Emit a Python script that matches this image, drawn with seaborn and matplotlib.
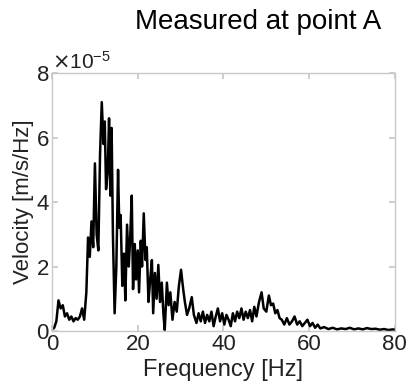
import numpy as np
import pandas as pd
import matplotlib
matplotlib.use("Agg")
import matplotlib.pyplot as plt
import matplotlib.ticker as mticker
import seaborn as sns

# estilo base
sns.set_theme(style="white")
plt.rcParams['font.family'] = ['Liberation Sans', 'DejaVu Sans']

# espectro (frecuencia en Hz, velocidad en unidades de 1e-5 m/s/Hz)
frecuencia = [
    0.0, 0.5, 1.0, 1.5, 2.0, 2.5, 3.0, 3.5, 4.0, 4.5, 5.0, 5.5, 6.0, 6.5, 7.0, 7.5,
    8.0, 8.4, 8.8, 9.2, 9.6, 10.0, 10.4, 10.8, 11.2, 11.6, 12.0, 12.3, 12.6, 13.0,
    13.3, 13.6, 13.9, 14.2, 14.6, 15.0, 15.4, 15.7, 16.0, 16.4, 16.8, 17.1, 17.5,
    17.9, 18.2, 18.6, 18.9, 19.3, 19.6, 20.0, 20.3, 20.7, 21.0, 21.4, 21.8, 22.1,
    22.5, 22.9, 23.3, 23.6, 24.0, 24.4, 24.8, 25.2, 25.6, 26.0, 26.3, 26.8, 27.2,
    27.6, 28.1, 28.6, 29.1, 29.6, 30.1, 30.6, 31.0, 31.5, 32.0, 32.6, 33.1, 33.7,
    34.2, 34.7, 35.2, 35.7, 36.2, 36.7, 37.2, 37.7, 38.2, 38.7, 39.2, 39.7, 40.2,
    40.7, 41.2, 41.7, 42.2, 42.7, 43.2, 43.7, 44.2, 44.7, 45.2, 45.7, 46.2, 46.7,
    47.2, 47.7, 48.3, 48.9, 49.4, 50.0, 50.6, 51.1, 51.6, 52.1, 52.6, 53.1, 53.6,
    54.2, 54.8, 55.4, 56.0, 56.6, 57.2, 57.8, 58.4, 59.0, 59.6, 60.2, 60.8, 61.4,
    62.0, 62.6, 63.5, 64.5, 65.5, 66.5, 67.5, 68.5, 69.5, 70.5, 71.5, 72.5, 73.5,
    74.5, 75.5, 76.5, 77.5, 78.5, 79.5, 80.0,
]
velocidad = [
    0.05, 0.1, 0.3, 0.95, 0.7, 0.8, 0.45, 0.55, 0.35, 0.45, 0.3, 0.4, 0.35, 0.45, 0.7, 0.35,
    1.2, 2.9, 2.3, 3.4, 2.6, 5.2, 3.0, 2.5, 5.5, 7.1, 5.8, 6.5, 4.4, 5.0,
    6.6, 4.2, 6.3, 3.0, 0.55, 2.0, 5.0, 3.2, 3.6, 1.4, 2.4, 0.95, 3.3,
    2.0, 2.8, 4.2, 1.3, 2.7, 1.6, 2.5, 1.2, 2.8, 2.0, 3.65, 2.2, 2.6,
    0.9, 1.6, 2.2, 0.55, 1.8, 1.0, 2.05, 0.9, 1.5, 0.5, 0.03, 1.5, 0.8,
    1.2, 0.35, 0.9, 0.6, 1.4, 1.9, 1.3, 0.9, 0.5, 0.7, 1.05, 0.5, 0.25,
    0.55, 0.3, 0.6, 0.25, 0.5, 0.3, 0.6, 0.15, 0.45, 0.7, 0.3, 0.55, 0.2,
    0.5, 0.35, 0.15, 0.55, 0.3, 0.6, 0.4, 0.7, 0.35, 0.6, 0.4, 0.65, 0.3,
    0.75, 0.45, 0.9, 1.2, 0.7, 0.6, 1.1, 0.8, 0.85, 0.55, 0.65, 0.4, 0.35,
    0.2, 0.4, 0.2, 0.3, 0.45, 0.2, 0.3, 0.15, 0.25, 0.35, 0.15, 0.25, 0.1,
    0.2, 0.08, 0.12, 0.06, 0.1, 0.05, 0.08, 0.06, 0.1, 0.05, 0.08, 0.05, 0.09,
    0.06, 0.07, 0.04, 0.06, 0.03, 0.05, 0.04,
]
escala = 1e-5

x_ticks = [0, 20, 40, 60, 80]
y_ticks = [0, 2e-5, 4e-5, 6e-5, 8e-5]

df = pd.DataFrame({"f": frecuencia, "v": np.array(velocidad) * escala})

fig = plt.figure(figsize=(4.10, 3.86), dpi=100)
ax = fig.add_axes([0.127, 0.1425, 0.836, 0.668])

sns.lineplot(data=df, x="f", y="v", ax=ax, color="black", linewidth=1.8,
             sort=False, estimator=None)

ax.set_xlim(0, 80)
ax.set_ylim(0, 8e-5)
ax.set_xticks(x_ticks)
ax.set_yticks(y_ticks)

fmt = mticker.ScalarFormatter(useMathText=True)
fmt.set_powerlimits((0, 0))
ax.yaxis.set_major_formatter(fmt)
ax.yaxis.get_offset_text().set_fontsize(15)
ax.yaxis.get_offset_text().set_color("#222222")

# ejes estilo matlab: borde gris claro y marcas hacia dentro
for s in ax.spines.values():
    s.set_color("#c8c8c8")
    s.set_linewidth(1.0)
ax.tick_params(axis="both", direction="in", length=4, color="#c8c8c8",
               labelsize=16, labelcolor="#222222", pad=2,
               top=True, right=True, bottom=True, left=True)

ax.set_title("Measured at point A", fontsize=20, color="black", pad=32, x=0.6)
ax.set_xlabel("Frequency [Hz]", fontsize=17, color="#222222", labelpad=3)
ax.set_ylabel("Velocity [m/s/Hz]", fontsize=16, color="#222222", labelpad=1)

fig.savefig("out.png", dpi=100)
